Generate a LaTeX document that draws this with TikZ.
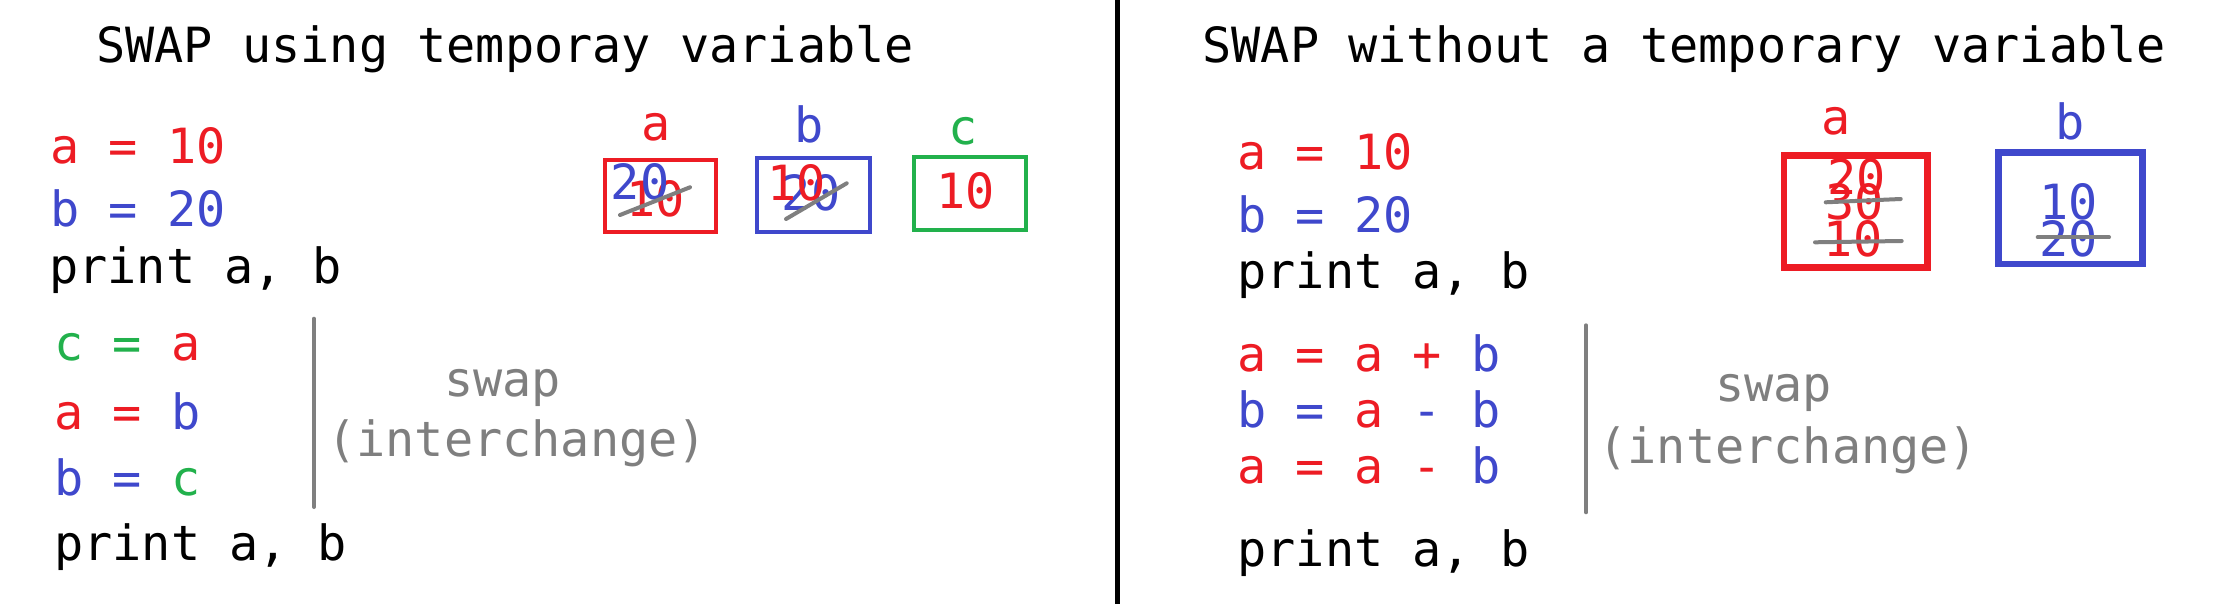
\documentclass[tikz,border=0pt]{standalone}
\usepackage{fontspec}
\setmonofont{DejaVu Sans Mono}
\usetikzlibrary{positioning}

\definecolor{cred}{HTML}{ED1C24}
\definecolor{cblue}{HTML}{3F48CC}
\definecolor{cgreen}{HTML}{22B14C}
\definecolor{cgray}{HTML}{7F7F7F}

\begin{document}
\begin{tikzpicture}[
                    x = 0.5pt,
                    y = -0.5pt,
                    code/.style = {font = \ttfamily\fontsize{24.25pt}{30pt}\selectfont, anchor = base west, inner sep = 0pt},
                    val/.style = {code, anchor = base},
                    cell/.style = {draw, line width = 2pt, inner sep = 0pt},
                    bigcell/.style = {draw, line width = 3.25pt, inner sep = 0pt},
                    strike/.style = {draw = cgray, line width = 2pt, line cap = round},
                    sep/.style = {draw = cgray, line width = 2pt, line cap = round}]
                \fill[white] (0,0) rectangle (2236,604);
                \useasboundingbox (0,0) rectangle (2236,604);
                \draw[line width = 2.5pt] (1117.5,0) -- (1117.5,604);
                % left half
                \node[code]                  (titleL) at (96,62.3)   {SWAP using temporay variable};
                \node[code, text = cred]     (setaL)  at (50,164)    {a = 10};
                \node[code, text = cblue]    (setbL)  at (50,226.7)  {b = 20};
                \node[code]                  (prtL1)  at (49,283.3)  {print a, b};
                \node[code]                  (stp1L)  at (54,360.7)  {\textcolor{cgreen}{c =} \textcolor{cred}{a}};
                \node[code]                  (stp2L)  at (54,429.3)  {\textcolor{cred}{a =} \textcolor{cblue}{b}};
                \node[code]                  (stp3L)  at (54,495)    {\textcolor{cblue}{b =} \textcolor{cgreen}{c}};
                \node[code]                  (prtL2)  at (54,560)    {print a, b};
                \draw[sep] (314,318.7) -- (314,507);
                \node[code, text = cgray]    (swapL)  at (443.7,396) {swap};
                \node[code, text = cgray]    (ichgL)  at (327,456.7) {(interchange)};
                \node[cell, draw = cred,   minimum width = 55.5pt,  minimum height = 36pt]    (boxaL) at (660.5,196)   {};
                \node[cell, draw = cblue,  minimum width = 56.25pt, minimum height = 37pt]    (boxbL) at (813.25,195)  {};
                \node[cell, draw = cgreen, minimum width = 56pt,    minimum height = 36.75pt] (boxcL) at (970,193.75)  {};
                \node[val, text = cred]      (nameaL) at (656,140.7)   {a};
                \node[val, text = cblue]     (namebL) at (809,142.3)   {b};
                \node[val, text = cgreen]    (namecL) at (962.8,145)   {c};
                \node[val, text = cred]      (oldaL)  at (655.5,216.7) {10};
                \node[val, text = cblue]     (newaL)  at (640,200)     {20};
                \node[val, text = cblue]     (oldbL)  at (811,210.7)   {20};
                \node[val, text = cred]      (newbL)  at (796.2,200.7) {10};
                \node[val, text = cred]      (valcL)  at (965.3,209)   {10};
                \draw[strike] (620,215) -- (690,187.3);
                \draw[strike] (786,219) -- (846.7,183.3);
                % right half
                \node[code]                  (titleR) at (1202,62.3)   {SWAP without a temporary variable};
                \node[code, text = cred]     (setaR)  at (1237,170)    {a = 10};
                \node[code, text = cblue]    (setbR)  at (1237,232.7)  {b = 20};
                \node[code]                  (prtR1)  at (1237,288.3)  {print a, b};
                \node[code]                  (stp1R)  at (1237,371.7)  {\textcolor{cred}{a = a +} \textcolor{cblue}{b}};
                \node[code]                  (stp2R)  at (1237,427.7)  {\textcolor{cblue}{b =} \textcolor{cred}{a} \textcolor{cblue}{- b}};
                \node[code]                  (stp3R)  at (1237,483.3)  {\textcolor{cred}{a = a -} \textcolor{cblue}{b}};
                \node[code]                  (prtR2)  at (1237,566.7)  {print a, b};
                \draw[sep] (1586,325.3) -- (1586,512.3);
                \node[code, text = cgray]    (swapR)  at (1714.8,401.7) {swap};
                \node[code, text = cgray]    (ichgR)  at (1598,463.3)   {(interchange)};
                \node[bigcell, draw = cred,  minimum width = 71.65pt, minimum height = 55.8pt]  (boxaR) at (1855.7,211.5)  {};
                \node[bigcell, draw = cblue, minimum width = 72pt,    minimum height = 55.65pt] (boxbR) at (2070.3,208.35) {};
                \node[val, text = cred]      (nameaR) at (1836.2,135)   {a};
                \node[val, text = cblue]     (namebR) at (2070.3,140)   {b};
                \node[val, text = cred]      (v1aR)   at (1856.7,195)   {20};
                \node[val, text = cred]      (v2aR)   at (1854.8,220)   {30};
                \node[val, text = cred]      (v3aR)   at (1853,256.7)   {10};
                \node[val, text = cblue]     (v1bR)   at (2068.8,219.3) {10};
                \node[val, text = cblue]     (v2bR)   at (2068.5,256.7) {20};
                \draw[strike] (1825.7,202.3) -- (1900.7,199);
                \draw[strike] (1815,242.3) -- (1901.7,241);
                \draw[strike] (2037.7,237.3) -- (2109,237.3);
            \end{tikzpicture}
\end{document}
